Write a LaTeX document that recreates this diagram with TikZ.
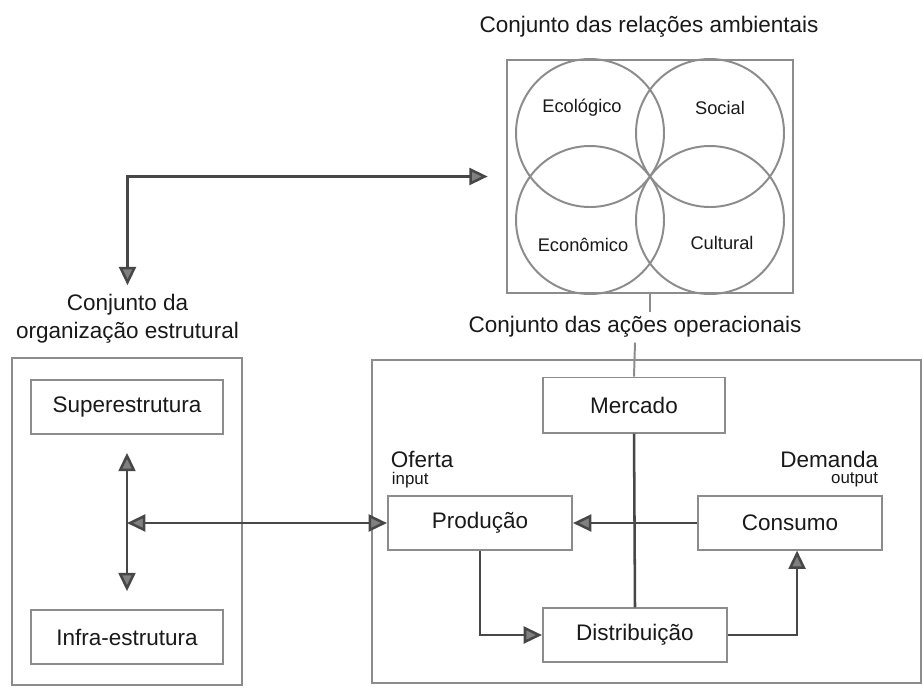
\documentclass[tikz,border=0pt]{standalone}
\usepackage{fontspec}
\setmainfont{Liberation Sans}
\usetikzlibrary{arrows.meta,calc}

\definecolor{framegray}{gray}{0.55}
\definecolor{linegray}{gray}{0.28}
\definecolor{tipgray}{gray}{0.5}
\definecolor{inkgray}{gray}{0.1}

\tikzset{
	frame/.style={draw=framegray, line width=1.4pt, inner sep=0pt},
	boxnode/.style={draw=framegray, line width=1.4pt, minimum width=4.6cm, minimum height=1.33cm,
		font=\fontsize{16}{18}\selectfont, text=inkgray},
	title/.style={font=\fontsize{16}{20}\selectfont, text=inkgray, align=center},
	ringtext/.style={font=\fontsize{13}{15}\selectfont, text=inkgray},
	smalltext/.style={font=\fontsize{12}{14}\selectfont, text=inkgray},
	flow/.style={draw=linegray, line width=1.8pt},
	gtip/.tip={Triangle[length=13pt,width=12pt,fill=tipgray]},
}

\begin{document}
\begin{tikzpicture}[x=0.025cm, y=-0.025cm]
			%%%%% START %%%%%
			\useasboundingbox (0,0) rectangle (924,687);
			
			% ambiente
			\node[title] (envtitle) at (649,27) {Conjunto das relações ambientais};
			\node[frame, minimum width=7.15cm, minimum height=5.825cm] (envbox) at (650,176.5) {};
			\draw[framegray, line width=1.4pt] (590,133) circle (74);
			\draw[framegray, line width=1.4pt] (710,133) circle (74);
			\draw[framegray, line width=1.4pt] (590,220) circle (74);
			\draw[framegray, line width=1.4pt] (710,220) circle (74);
			\node[ringtext] (eco) at (582,108) {Ecológico};
			\node[ringtext] (soc) at (720,108) {Social};
			\node[ringtext] (econ) at (583,245) {Econômico};
			\node[ringtext] (cult) at (722,243) {Cultural};
			
			% organizacao estrutural
			\node[title] (orgtitle) at (127.5,319) {Conjunto da\\organização estrutural};
			\node[frame, minimum width=5.75cm, minimum height=8.175cm] (orgbox) at (127,521.5) {};
			\node[boxnode, minimum width=4.8cm] (sup) at (127,407) {Superestrutura};
			\node[boxnode, minimum width=4.8cm] (infra) at (127,637) {Infra-estrutura};
			\coordinate (hub) at ($(sup.south)!0.5!(infra.north)$);
			
			% acoes operacionais
			\node[title] (optitle) at (635,327) {Conjunto das ações operacionais};
			\node[frame, minimum width=13.725cm, minimum height=8.075cm] (opbox) at (646.5,521.5) {};
			\node[boxnode, minimum width=4.55cm, minimum height=1.375cm] (merc) at (634,405) {Mercado};
			\node[boxnode] (prod) at (480,523) {Produção};
			\node[boxnode] (cons) at (790,523) {Consumo};
			\node[boxnode] (dist) at (635,635) {Distribuição};
			\node[title, anchor=west] (oferta) at (386,459) {Oferta};
			\node[smalltext, anchor=west] (input) at (387,480) {input};
			\node[title, anchor=east] (demanda) at (883,459) {Demanda};
			\node[smalltext, anchor=east] (output) at (883,480) {output};
			
			% ligacoes
			\draw[flow, gtip-gtip, shorten <=13pt, shorten >=3pt] (envbox.west) -| (orgtitle.north);
			\draw[flow, gtip-gtip, shorten <=13pt, shorten >=13pt] (sup.south) -- (infra.north);
			\draw[flow, gtip-gtip] (prod.west -| hub) -- (prod.west);
			\draw[framegray, line width=1.4pt] (envbox.south) -- (envbox.south |- optitle.north);
			\draw[framegray, line width=1.4pt] (optitle.south) -- (merc.north);
			\draw[flow] (merc.south) -- (dist.north);
			\draw[flow, -gtip] (cons.west) -- (prod.east);
			\draw[flow, -gtip] (prod.south) |- (dist.west);
			\draw[flow, -gtip] (dist.east) -| ([xshift=5pt]cons.south);
			
			%%%%% END %%%%%
		\end{tikzpicture}
\end{document}
